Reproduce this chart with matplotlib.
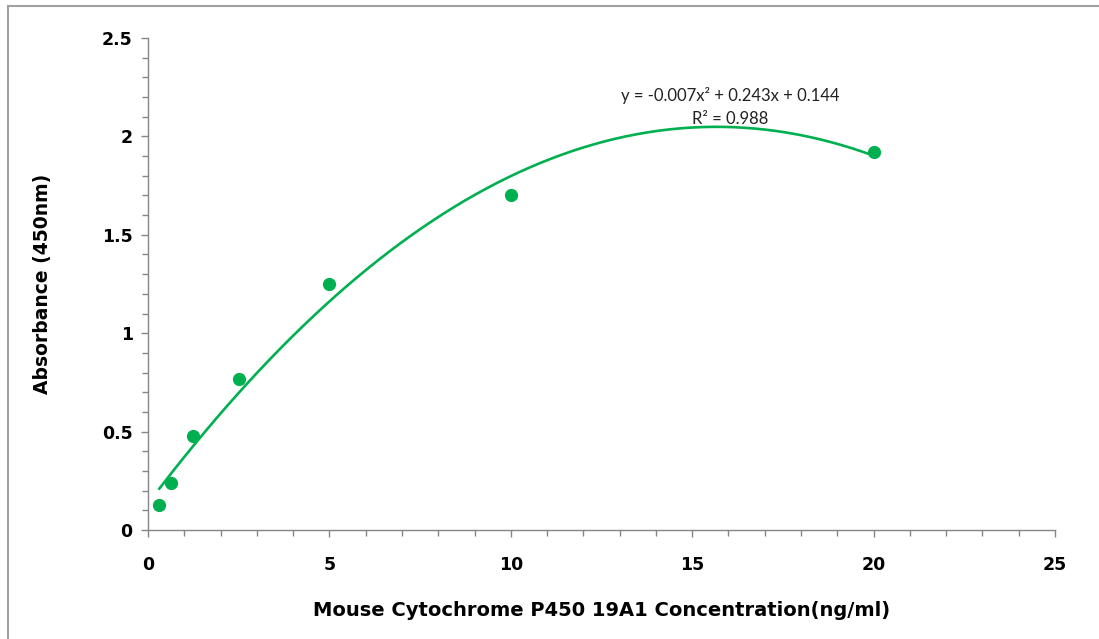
import numpy as np
import matplotlib
matplotlib.use('Agg')
import matplotlib.pyplot as plt
from matplotlib.ticker import MultipleLocator
from matplotlib.patches import Rectangle

conc = [0.3125, 0.625, 1.25, 2.5, 5, 10, 20]
absorb = [0.127, 0.239, 0.478, 0.767, 1.25, 1.70, 1.92]

eq_text = 'y = -0.007x² + 0.243x + 0.144'
r2_text = 'R² = 0.988'

green = '#00b050'
grey = '#868686'

plt.rcParams['font.family'] = ['DejaVu Sans']

fig = plt.figure(figsize=(10.99, 6.39), dpi=100)
ax = fig.add_axes([148 / 1099, 0.1706, 907 / 1099, 0.7699])

# trendline (2nd order polynomial fit)
coef = np.polyfit(conc, absorb, 2)
xs = np.linspace(min(conc), max(conc), 200)
ax.plot(xs, np.polyval(coef, xs), color=green, lw=1.9, zorder=2)
ax.plot(conc, absorb, 'o', color=green, ms=8.5, zorder=3)

ax.set_xlim(0, 25)
ax.set_ylim(0, 2.5)
ax.xaxis.set_major_locator(MultipleLocator(5))
ax.xaxis.set_minor_locator(MultipleLocator(1))
ax.yaxis.set_major_locator(MultipleLocator(0.5))
ax.yaxis.set_minor_locator(MultipleLocator(0.1))
ax.set_yticks([0, 0.5, 1, 1.5, 2, 2.5])
ax.set_yticklabels(['0', '0.5', '1', '1.5', '2', '2.5'])

for s in ['top', 'right']:
    ax.spines[s].set_visible(False)
for s in ['left', 'bottom']:
    ax.spines[s].set_color(grey)
    ax.spines[s].set_linewidth(1.0)

ax.tick_params(which='both', direction='out', color=grey, width=1.0)
ax.tick_params(which='major', length=5)
ax.tick_params(which='minor', length=4)
ax.tick_params(axis='y', which='major', pad=6, labelsize=12.5)
ax.tick_params(axis='x', which='major', pad=14, labelsize=12.5)
for lab in ax.get_xticklabels() + ax.get_yticklabels():
    lab.set_fontweight('bold')

ax.set_xlabel('Mouse Cytochrome P450 19A1 Concentration(ng/ml)',
              fontsize=14, fontweight='bold', labelpad=19)
ax.set_ylabel('Absorbance (450nm)', fontsize=13.5, fontweight='bold', labelpad=36)

ax.text(16.05, 2.21, eq_text, ha='center', va='center', fontsize=12,
        family=['Lato', 'DejaVu Sans'], color='#222222')
ax.text(16.05, 2.09, r2_text, ha='center', va='center', fontsize=12,
        family=['Lato', 'DejaVu Sans'], color='#222222')

# outer chart frame
fig.patches.append(Rectangle((8 / 1099, -0.05), 1.05, 1 - 6 / 639 + 0.05,
                             transform=fig.transFigure, fill=False,
                             edgecolor='#a0a0a0', lw=1.5))

fig.savefig('out.png', dpi=100)
